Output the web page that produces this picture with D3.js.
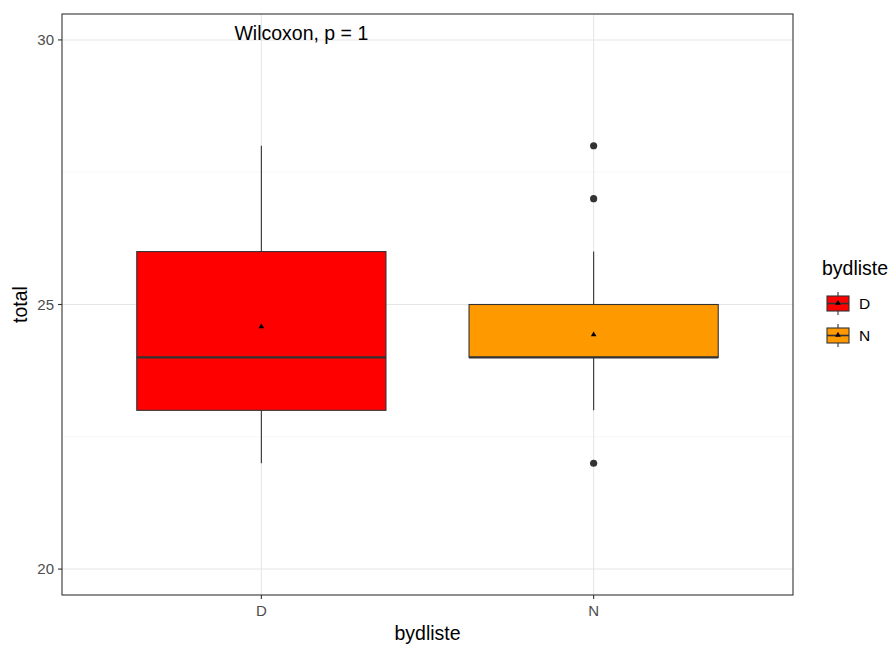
<!DOCTYPE html>
<html>
<head>
<meta charset="utf-8">
<script src="https://cdn.jsdelivr.net/npm/d3@7"></script>
<style>
  body { margin: 0; background: #fff; }
  text { font-family: "Liberation Sans", Arial, sans-serif; }
</style>
</head>
<body>
<script>
// data
const groups = ["D", "N"];
const colors = ["#ff0000", "#ff9900"];
const q1 = [23, 24];
const medians = [24, 24];
const q3 = [26, 25];
const whiskLo = [22, 23];
const whiskHi = [28, 26];
const means = [24.58, 24.43];
const outliers = [[], [28, 27, 22]];
const yTicks = [20, 25, 30];
const yMinor = [22.5, 27.5];

const W = 891, H = 646;
const panel = {left: 62, top: 14, right: 793, bottom: 595};

const svg = d3.select("body").append("svg")
  .attr("width", W).attr("height", H);

// ggplot style discrete scale: 0.6 expansion on each side
const x = d3.scalePoint().domain(groups)
  .range([panel.left, panel.right]).padding(0.6);
const step = x.step();
const boxW = step * 0.75;

const y = d3.scaleLinear().domain([19.51, 30.49]).range([panel.bottom, panel.top]);

const grid = svg.append("g");
yMinor.forEach(v => grid.append("line")
  .attr("x1", panel.left).attr("x2", panel.right)
  .attr("y1", y(v)).attr("y2", y(v))
  .attr("stroke", "#f2f2f2").attr("stroke-width", 0.6));
yTicks.forEach(v => grid.append("line")
  .attr("x1", panel.left).attr("x2", panel.right)
  .attr("y1", y(v)).attr("y2", y(v))
  .attr("stroke", "#e6e6e6").attr("stroke-width", 1.1));
groups.forEach(g => grid.append("line")
  .attr("x1", x(g)).attr("x2", x(g))
  .attr("y1", panel.top).attr("y2", panel.bottom)
  .attr("stroke", "#e6e6e6").attr("stroke-width", 1.1));

// boxes
const boxes = svg.append("g");
groups.forEach((g, i) => {
  const cx = x(g);
  const gg = boxes.append("g");
  gg.append("line").attr("x1", cx).attr("x2", cx)
    .attr("y1", y(q3[i])).attr("y2", y(whiskHi[i]))
    .attr("stroke", "#333").attr("stroke-width", 1.1);
  gg.append("line").attr("x1", cx).attr("x2", cx)
    .attr("y1", y(q1[i])).attr("y2", y(whiskLo[i]))
    .attr("stroke", "#333").attr("stroke-width", 1.1);
  gg.append("rect")
    .attr("x", cx - boxW / 2).attr("width", boxW)
    .attr("y", y(q3[i])).attr("height", y(q1[i]) - y(q3[i]))
    .attr("fill", colors[i]).attr("stroke", "#333").attr("stroke-width", 1.1);
  gg.append("line")
    .attr("x1", cx - boxW / 2).attr("x2", cx + boxW / 2)
    .attr("y1", y(medians[i])).attr("y2", y(medians[i]))
    .attr("stroke", "#333").attr("stroke-width", 2.2);
  outliers[i].forEach(o => gg.append("circle")
    .attr("cx", cx).attr("cy", y(o)).attr("r", 3.6).attr("fill", "#333"));
  gg.append("path")
    .attr("d", d3.symbol(d3.symbolTriangle, 14)())
    .attr("transform", `translate(${cx},${y(means[i])})`)
    .attr("fill", "#000");
});

// panel border
svg.append("rect")
  .attr("x", panel.left).attr("y", panel.top)
  .attr("width", panel.right - panel.left).attr("height", panel.bottom - panel.top)
  .attr("fill", "none").attr("stroke", "#333").attr("stroke-width", 1.1);

// y axis
const ya = svg.append("g");
yTicks.forEach(v => {
  ya.append("line").attr("x1", panel.left - 4).attr("x2", panel.left)
    .attr("y1", y(v)).attr("y2", y(v)).attr("stroke", "#333").attr("stroke-width", 1.1);
  ya.append("text").attr("x", panel.left - 8).attr("y", y(v))
    .attr("dy", "0.36em").attr("text-anchor", "end")
    .attr("font-size", 15).attr("fill", "#4d4d4d").text(v);
});
// x axis
const xa = svg.append("g");
groups.forEach(g => {
  xa.append("line").attr("x1", x(g)).attr("x2", x(g))
    .attr("y1", panel.bottom).attr("y2", panel.bottom + 4)
    .attr("stroke", "#333").attr("stroke-width", 1.1);
  xa.append("text").attr("x", x(g)).attr("y", panel.bottom + 21)
    .attr("text-anchor", "middle").attr("font-size", 15)
    .attr("fill", "#4d4d4d").text(g);
});

svg.append("text").attr("x", (panel.left + panel.right) / 2).attr("y", 640)
  .attr("text-anchor", "middle").attr("font-size", 19.5).attr("fill", "#000")
  .text("bydliste");
svg.append("text").attr("transform", `translate(27,${(panel.top + panel.bottom) / 2}) rotate(-90)`)
  .attr("text-anchor", "middle").attr("font-size", 19.5).attr("fill", "#000")
  .text("total");

// stat label
svg.append("text").attr("x", x("D") + 40).attr("y", y(30))
  .attr("text-anchor", "middle").attr("font-size", 19.5).attr("fill", "#000")
  .text("Wilcoxon, p = 1");

// legend
const lg = svg.append("g").attr("transform", "translate(822,0)");
lg.append("text").attr("x", 0).attr("y", 275).attr("font-size", 19.5)
  .attr("fill", "#000").text("bydliste");
groups.forEach((g, i) => {
  const ky = 295 + i * 32;
  const k = lg.append("g").attr("transform", `translate(5,${ky})`);
  k.append("line").attr("x1", 11).attr("x2", 11).attr("y1", -3).attr("y2", 20)
    .attr("stroke", "#333").attr("stroke-width", 1.1);
  k.append("rect").attr("x", 0).attr("y", 1).attr("width", 22).attr("height", 15)
    .attr("fill", colors[i]).attr("stroke", "#333").attr("stroke-width", 1.1);
  k.append("line").attr("x1", 0).attr("x2", 22).attr("y1", 8.5).attr("y2", 8.5)
    .attr("stroke", "#333").attr("stroke-width", 1.6);
  k.append("path").attr("d", d3.symbol(d3.symbolTriangle, 14)())
    .attr("transform", "translate(11,8)").attr("fill", "#000");
  lg.append("text").attr("x", 37).attr("y", ky + 8.5).attr("dy", "0.36em")
    .attr("font-size", 15.5).attr("fill", "#000").text(g);
});
</script>
</body>
</html>
